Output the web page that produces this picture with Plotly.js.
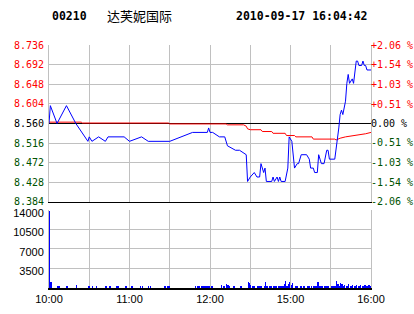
<!DOCTYPE html>
<html>
<head>
<meta charset="utf-8">
<script src="https://cdn.plot.ly/plotly-3.0.1.min.js"></script>
<style>html,body{margin:0;padding:0;background:#fff;}#chart{width:414px;height:314px;}</style>
</head>
<body>
<div id="chart"></div>
<script>
// ---- data ----
const stockCode = "00210";
const stockName = "达芙妮国际";
const stamp = "2010-09-17 16:04:42";
const prevClose = 8.56;

// minute index (0 = 10:00, 150 = 12:30 / 14:30, 240 = 16:00)
const priceMin = [0,1,6,13,20,29,30,32,37,42,44,56,60,69,74,90,107,118,119,120,122,127,131,133,139,142,147,148,150,153,155,157,158,160,161,162,166,167,168,170,171,172,173,176,178,179,181,183,185,186,188,192,194,195,197,198,200,201,202,203,205,207,208,209,213,214,215,216,217,218,219,221,222,223,224,226,227,228,229,230,231,233,234,235,236,237,240];
const priceVal = [8.56,8.60,8.56,8.60,8.56,8.52,8.53,8.52,8.53,8.52,8.53,8.53,8.52,8.53,8.52,8.52,8.54,8.54,8.55,8.54,8.54,8.53,8.53,8.51,8.50,8.50,8.49,8.43,8.44,8.45,8.44,8.44,8.47,8.45,8.46,8.43,8.43,8.44,8.43,8.44,8.43,8.44,8.43,8.43,8.46,8.53,8.52,8.46,8.47,8.47,8.49,8.49,8.48,8.46,8.46,8.45,8.45,8.49,8.48,8.47,8.47,8.50,8.50,8.48,8.48,8.50,8.52,8.55,8.58,8.59,8.58,8.61,8.65,8.67,8.65,8.66,8.65,8.68,8.70,8.70,8.69,8.69,8.70,8.69,8.69,8.68,8.68];

const avgMin = [0,24,25,89,90,132,133,145,147,148,150,158,159,166,167,176,177,183,184,196,197,213,214,217,221,226,231,236,240];
const avgVal = [8.563,8.563,8.561,8.561,8.559,8.559,8.557,8.557,8.554,8.548,8.546,8.546,8.542,8.542,8.538,8.538,8.533,8.533,8.530,8.530,8.525,8.525,8.523,8.527,8.530,8.532,8.535,8.537,8.540];

const volMin = [0,1,6,7,13,20,29,30,32,35,42,45,50,51,57,61,62,68,69,74,75,86,88,89,109,110,111,112,113,114,115,116,117,118,119,121,128,130,132,133,134,137,138,142,143,
 148,149,150,151,152,153,155,156,157,158,160,161,162,164,165,167,168,169,171,172,173,174,175,176,177,178,179,180,181,183,184,185,187,188,189,190,192,193,194,195,197,198,199,200,201,202,203,205,206,207,208,210,211,212,213,214,215,216,217,218,219,220,221,222,223,224,225,226,227,228,229,230,231,232,233,234,235,236,237,238,239,240];
const volVal = [13800,1000,300,300,300,500,300,300,300,300,300,300,300,300,300,300,300,300,300,300,300,300,300,300,300,300,300,300,300,300,300,400,400,400,300,400,500,400,700,500,300,400,400,400,400,
 1100,950,600,400,400,400,400,400,400,400,400,1000,400,400,400,400,400,400,400,400,400,400,700,1250,400,650,1100,500,850,300,400,400,400,400,400,400,400,400,400,400,400,400,400,1100,400,400,400,400,400,400,400,400,400,400,400,1250,650,400,900,650,400,550,400,400,650,400,400,550,400,400,550,400,400,550,400,400,550,400,400,550,400,400];

const xTickVals = [0,30,60,90,120,150,180,210,240];
const xTickText = ["10:00","","11:00","","12:00","","15:00","","16:00"];
const priceTicks = [8.736,8.692,8.648,8.604,8.560,8.516,8.472,8.428,8.384];
const pctTicks = [2.06,1.54,1.03,0.51,0.00,-0.51,-1.03,-1.54,-2.06];
const volTicks = [3500,7000,10500,14000];

// ---- build ----
const RED = "#ff0000", GREEN = "#005200", BLACK = "#000000";
function colFor(v){ return v > 0 ? RED : (v < 0 ? GREEN : BLACK); }
const priceTickText = priceTicks.map(v => `<span style="fill:${colFor(+(v - prevClose).toFixed(3))}">${v.toFixed(3)}</span>`);
const pctTickText = pctTicks.map(v => `<span style="fill:${colFor(v)}">${v > 0 ? "+" : ""}${v.toFixed(2)} %</span>`);

const traces = [
  {x:[0,240], y:[prevClose,prevClose], xaxis:"x2", yaxis:"y", mode:"lines", line:{color:BLACK,width:1}, hoverinfo:"skip"},
  {x:avgMin, y:avgVal, xaxis:"x2", yaxis:"y", mode:"lines", line:{color:RED,width:1}, hoverinfo:"skip"},
  {x:priceMin, y:priceVal, xaxis:"x2", yaxis:"y", mode:"lines", line:{color:"#0000ff",width:1}, hoverinfo:"skip"},
  {x:[0,240], y:[0,0], xaxis:"x2", yaxis:"y3", mode:"lines", line:{color:"rgba(0,0,0,0)",width:0}, hoverinfo:"skip"},
  {x:volMin, y:volVal, xaxis:"x", yaxis:"y2", type:"bar", width:0.9, offset:0, marker:{color:"#0000ff",line:{width:0}}, hoverinfo:"skip"}
];

const GRID = "#c0c0c0";
const monoFont = {family:"DejaVu Sans Mono", size:10, color:BLACK};
const sansFont = {family:"Liberation Sans, Arial", size:11, color:BLACK};

const layout = {
  width:414, height:314,
  margin:{l:49, r:43, t:45, b:26},
  paper_bgcolor:"#ffffff", plot_bgcolor:"#ffffff",
  showlegend:false,
  bargap:0,
  xaxis:{domain:[0,1], anchor:"y2", range:[0,240], tickmode:"array", tickvals:xTickVals, ticktext:xTickText,
         showgrid:true, gridcolor:GRID, gridwidth:1, zeroline:false, showline:true, linecolor:BLACK, linewidth:1.5,
         ticks:"", tickfont:sansFont, fixedrange:true},
  xaxis2:{domain:[0,1], anchor:"y", matches:"x", range:[0,240], tickmode:"array", tickvals:xTickVals,
          showticklabels:false, showgrid:true, gridcolor:GRID, gridwidth:1, zeroline:false,
          showline:true, linecolor:BLACK, linewidth:1.5, ticks:"", fixedrange:true},
  yaxis:{domain:[0.354,1], anchor:"x2", range:[priceTicks[8], priceTicks[0]], tickmode:"array", tickvals:priceTicks, ticktext:priceTickText,
         showgrid:true, gridcolor:GRID, gridwidth:1, zeroline:false, showline:true, linecolor:GRID, linewidth:1,
         ticks:"outside", ticklen:2, tickcolor:"rgba(0,0,0,0)", tickfont:monoFont, fixedrange:true},
  yaxis3:{overlaying:"y", anchor:"x2", side:"right", range:[pctTicks[8], pctTicks[0]], tickmode:"array", tickvals:pctTicks, ticktext:pctTickText,
          showgrid:false, zeroline:false, showline:true, linecolor:GRID, linewidth:1,
          ticks:"", tickfont:monoFont, ticklabelstandoff:-3, fixedrange:true},
  yaxis2:{domain:[0,0.321], anchor:"x", range:[0,14000], tickmode:"array", tickvals:volTicks, ticktext:volTicks.map(String),
          showgrid:true, gridcolor:GRID, gridwidth:1, zeroline:false, showline:true, linecolor:GRID, linewidth:1, mirror:true,
          ticks:"outside", ticklen:2, tickcolor:"rgba(0,0,0,0)", tickfont:sansFont, ticklabelshift:3, fixedrange:true},
  annotations:[
    {text:stockCode, xref:"paper", yref:"paper", x:0.003, y:1.119, xanchor:"left", yanchor:"middle", showarrow:false,
     font:{family:"DejaVu Sans Mono", size:11.5, color:BLACK, weight:"bold"}},
    {text:stockName, xref:"paper", yref:"paper", x:0.174, y:1.123, xanchor:"left", yanchor:"middle", showarrow:false,
     font:{family:"Noto Sans CJK SC", size:13, color:BLACK}},
    {text:stamp, xref:"paper", yref:"paper", x:0.997, y:1.119, xanchor:"right", yanchor:"middle", showarrow:false,
     font:{family:"DejaVu Sans Mono", size:11.5, color:BLACK, weight:"bold"}}
  ]
};

Plotly.newPlot("chart", traces, layout, {staticPlot:true, displayModeBar:false});
</script>
</body>
</html>
